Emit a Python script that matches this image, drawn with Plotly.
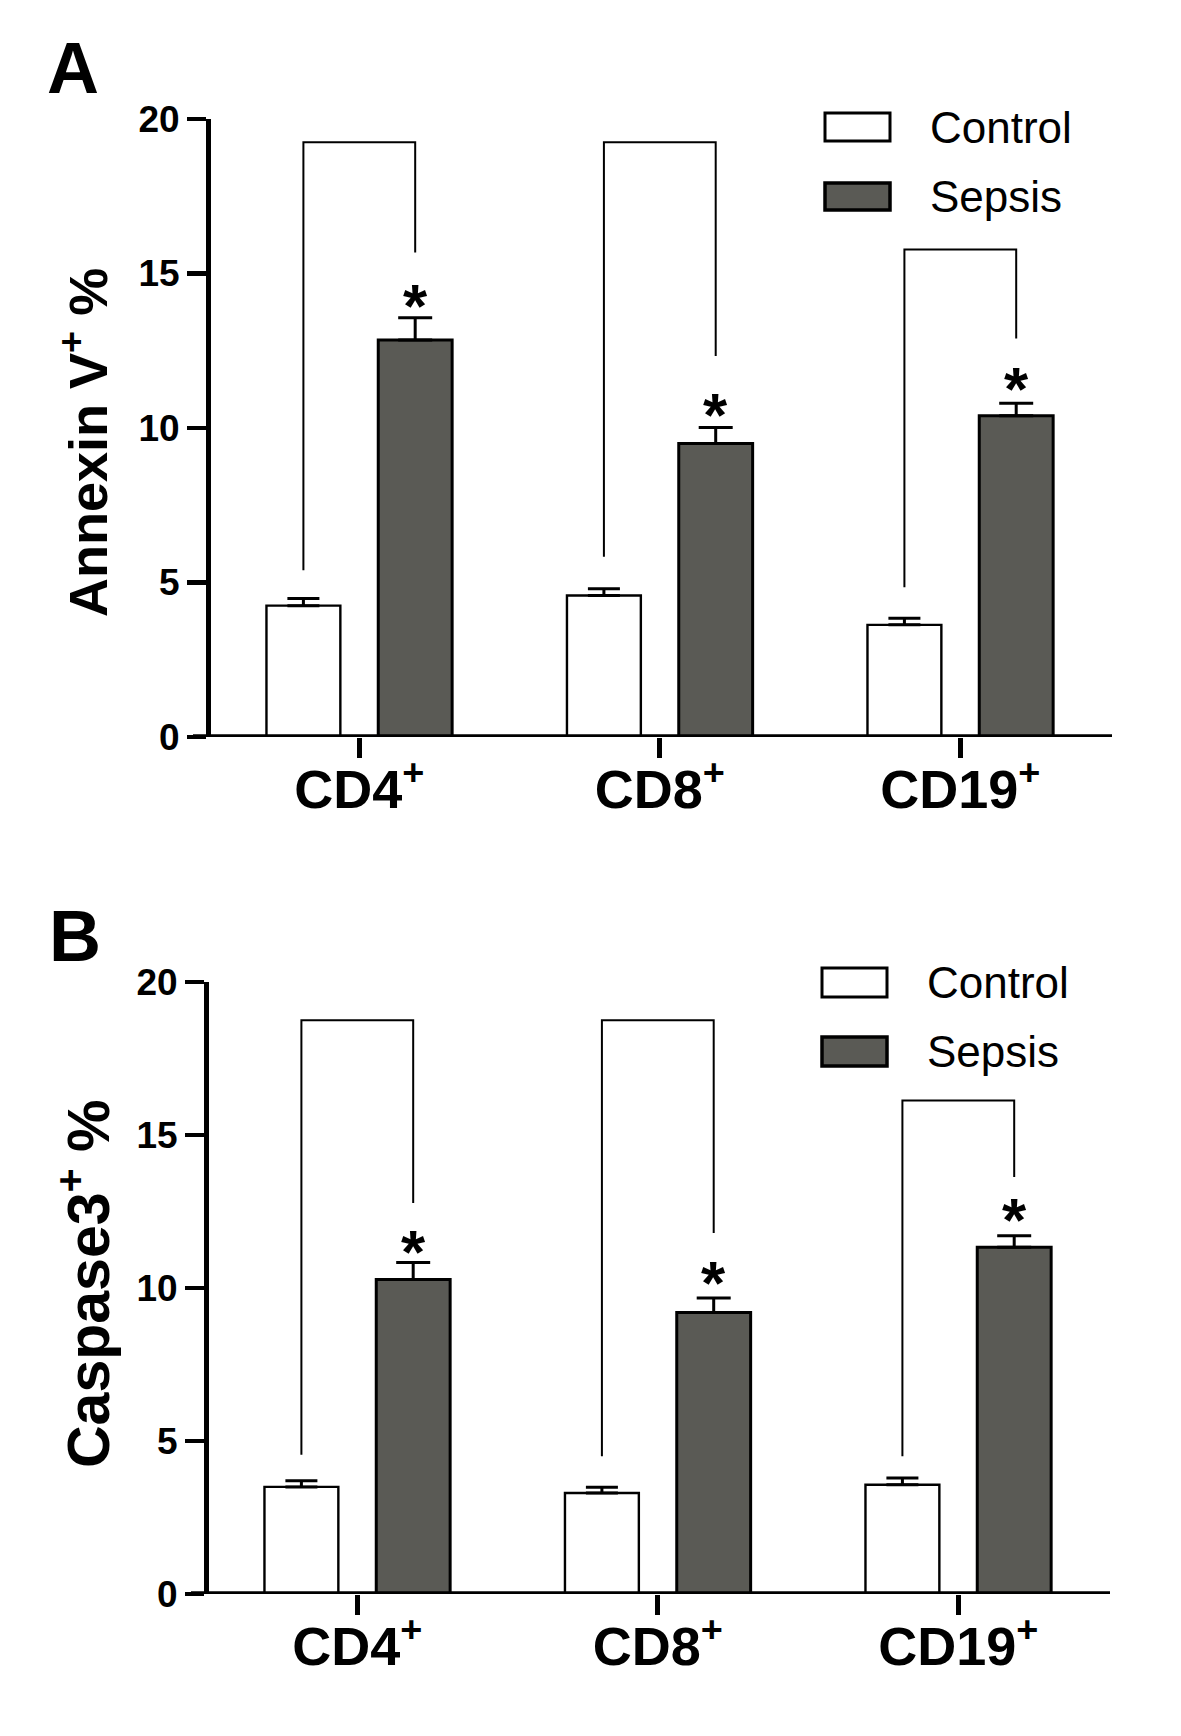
import plotly.graph_objects as go

# ---------------- data ----------------
categories = ["CD4<sup>+</sup>", "CD8<sup>+</sup>", "CD19<sup>+</sup>"]
series_names = ["Control", "Sepsis"]

# Panel A: Annexin V+ %
a_control = [4.25, 4.58, 3.63]
a_control_err = [0.23, 0.22, 0.21]
a_sepsis = [12.85, 9.50, 10.40]
a_sepsis_err = [0.72, 0.52, 0.40]
a_bracket_top = [19.25, 19.25, 15.78]
a_bracket_left_end = [5.40, 5.83, 4.85]
a_bracket_right_end = [15.68, 12.33, 12.90]
a_star_level = [14.37, 10.85, 11.70]

# Panel B: Caspase3+ %
b_control = [3.50, 3.30, 3.57]
b_control_err = [0.20, 0.19, 0.22]
b_sepsis = [10.28, 9.20, 11.33]
b_sepsis_err = [0.55, 0.47, 0.38]
b_bracket_top = [18.75, 18.75, 16.13]
b_bracket_left_end = [4.55, 4.50, 4.50]
b_bracket_right_end = [12.78, 11.80, 13.63]
b_star_level = [11.62, 10.60, 12.66]

y_ticks = [0, 5, 10, 15, 20]

# ---------------- style ----------------
W, H = 1181, 1736
FONT = "Liberation Sans, Arial, sans-serif"
SEPSIS_COLOR = "#5a5a55"
BARGAP = 0.256
BARGROUPGAP = 0.339
slot = (1 - BARGAP) / 2
offsets = [-slot / 2, slot / 2]

xs = list(range(len(categories)))


def px_x(p):
    return p / W


def px_y(p):
    return 1 - p / H


panels = [
    dict(ctrl=a_control, ctrl_err=a_control_err, seps=a_sepsis, seps_err=a_sepsis_err,
         btop=a_bracket_top, bl=a_bracket_left_end, br=a_bracket_right_end, star=a_star_level,
         xa="x", ya="y", xdom=[211, 1112], ydom=[737, 119],
         title="<b>Annexin V<sup>+</sup> %</b>", title_xy=(84, 443), title_size=54,
         letter="A", letter_xy=(73, 68),
         leg_box_x=(825, 890), leg_ctrl_y=(113, 141), leg_seps_y=(183, 210), leg_text_x=928),
    dict(ctrl=b_control, ctrl_err=b_control_err, seps=b_sepsis, seps_err=b_sepsis_err,
         btop=b_bracket_top, bl=b_bracket_left_end, br=b_bracket_right_end, star=b_star_level,
         xa="x2", ya="y2", xdom=[209, 1110], ydom=[1594, 982],
         title="<b>Caspase3<sup>+</sup> %</b>", title_xy=(84, 1284), title_size=59,
         letter="B", letter_xy=(75, 936),
         leg_box_x=(822, 887), leg_ctrl_y=(968, 997), leg_seps_y=(1037, 1066), leg_text_x=925),
]

fig = go.Figure()
shapes = []
annotations = []
layout_axes = {}

for i, p in enumerate(panels):
    xa, ya = p["xa"], p["ya"]
    fig.add_trace(go.Bar(
        x=xs, y=p["ctrl"], name=series_names[0], xaxis=xa, yaxis=ya,
        marker=dict(color="white", line=dict(color="black", width=2.4)),
        error_y=dict(type="data", symmetric=False, array=p["ctrl_err"],
                     arrayminus=[0] * len(xs), color="black", thickness=3, width=16),
        showlegend=False,
    ))
    fig.add_trace(go.Bar(
        x=xs, y=p["seps"], name=series_names[1], xaxis=xa, yaxis=ya,
        marker=dict(color=SEPSIS_COLOR, line=dict(color="black", width=3)),
        error_y=dict(type="data", symmetric=False, array=p["seps_err"],
                     arrayminus=[0] * len(xs), color="black", thickness=3, width=17),
        showlegend=False,
    ))

    # brackets (control centre -> sepsis centre)
    for k, x in enumerate(xs):
        xl = x + offsets[0]
        xr = x + offsets[1]
        path = (f"M {xl},{p['bl'][k]} L {xl},{p['btop'][k]} "
                f"L {xr},{p['btop'][k]} L {xr},{p['br'][k]}")
        shapes.append(dict(type="path", path=path, xref=xa, yref=ya,
                           line=dict(color="black", width=2)))
        annotations.append(dict(x=xr, y=p["star"][k], xref=xa, yref=ya, text="<b>*</b>",
                                showarrow=False, xanchor="center", yanchor="middle",
                                yshift=-13, font=dict(family=FONT, size=62, color="black")))

    # x axis line (extends slightly left of the y axis)
    shapes.append(dict(type="line", xref=f"{xa} domain", yref=ya, x0=-0.02, x1=1.0,
                       y0=0, y1=0, line=dict(color="black", width=5.5)))

    axis_idx = "" if i == 0 else str(i + 1)
    layout_axes[f"xaxis{axis_idx}"] = dict(
        domain=[px_x(p["xdom"][0]), px_x(p["xdom"][1])],
        range=[-0.4935, 2.5048], anchor=ya, automargin=False,
        tickmode="array", tickvals=xs, ticktext=categories,
        showline=False, showgrid=False, zeroline=False,
        ticks="outside", ticklen=20, tickwidth=5, tickcolor="black",
        ticklabelstandoff=-15,
        tickfont=dict(family=FONT, size=54, color="black", weight="bold"),
        fixedrange=True,
    )
    layout_axes[f"yaxis{axis_idx}"] = dict(
        domain=[px_y(p["ydom"][0]), px_y(p["ydom"][1])],
        range=[0, 20], anchor=xa, automargin=False,
        tickmode="array", tickvals=y_ticks, ticktext=[str(t) for t in y_ticks],
        showline=True, linecolor="black", linewidth=5,
        showgrid=False, zeroline=False,
        ticks="outside", ticklen=19, tickwidth=4.7, tickcolor="black",
        tickfont=dict(family=FONT, size=37, color="black", weight="bold"),
        fixedrange=True,
    )

    # axis title
    annotations.append(dict(x=px_x(p["title_xy"][0]), y=px_y(p["title_xy"][1]),
                            xref="paper", yref="paper", text=p["title"], textangle=-90,
                            showarrow=False, xanchor="center", yanchor="middle",
                            font=dict(family=FONT, size=p["title_size"], color="black")))
    # panel letter
    annotations.append(dict(x=px_x(p["letter_xy"][0]), y=px_y(p["letter_xy"][1]),
                            xref="paper", yref="paper", text=f"<b>{p['letter']}</b>",
                            showarrow=False, xanchor="center", yanchor="middle",
                            font=dict(family=FONT, size=72, color="black")))

    # legend (drawn manually)
    bx0, bx1 = p["leg_box_x"]
    for (yy, fill, lw, name) in [(p["leg_ctrl_y"], "white", 3, series_names[0]),
                                 (p["leg_seps_y"], SEPSIS_COLOR, 3.5, series_names[1])]:
        shapes.append(dict(type="rect", xref="paper", yref="paper",
                           x0=px_x(bx0), x1=px_x(bx1), y0=px_y(yy[1]), y1=px_y(yy[0]),
                           fillcolor=fill, line=dict(color="black", width=lw)))
        annotations.append(dict(x=px_x(p["leg_text_x"]), y=px_y((yy[0] + yy[1]) / 2),
                                xref="paper", yref="paper", text=name, showarrow=False,
                                xanchor="left", yanchor="middle",
                                font=dict(family=FONT, size=44, color="black")))

fig.update_layout(
    template="none",
    width=W, height=H,
    margin=dict(l=0, r=0, t=0, b=0, pad=0, autoexpand=False),
    paper_bgcolor="white", plot_bgcolor="white",
    barmode="group", bargap=BARGAP, bargroupgap=BARGROUPGAP,
    showlegend=False,
    shapes=shapes, annotations=annotations,
    **layout_axes,
)

fig.write_html("out.html",
               config={"displayModeBar": False, "staticPlot": True},
               post_script="document.body.style.margin='0';document.body.style.overflow='hidden';")
